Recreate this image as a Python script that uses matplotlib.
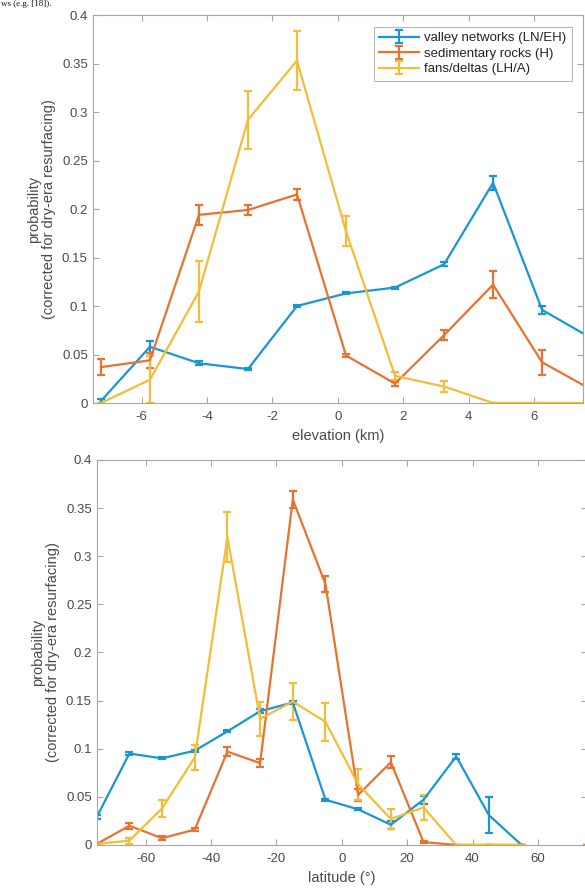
import numpy as np
import matplotlib
matplotlib.use('Agg')
import matplotlib.pyplot as plt

plt.rcParams['font.family'] = ['Liberation Sans', 'DejaVu Sans']
plt.rcParams['axes.unicode_minus'] = False

# elevation bins (km)
elev = [-7.25, -5.75, -4.25, -2.75, -1.25, 0.25, 1.75, 3.25, 4.75, 6.25, 7.75]
elev_valley = [0.002, 0.058, 0.041, 0.035, 0.100, 0.113, 0.119, 0.143, 0.227, 0.096, 0.067]
elev_valley_err = [0.002, 0.006, 0.002, 0.001, 0.001, 0.001, 0.001, 0.002, 0.007, 0.004, 0.003]
elev_sed = [0.037, 0.044, 0.194, 0.199, 0.215, 0.049, 0.020, 0.070, 0.122, 0.042, 0.014]
elev_sed_err = [0.0085, 0.008, 0.010, 0.005, 0.006, 0.002, 0.002, 0.005, 0.014, 0.013, 0.004]
elev_fans = [0.0, 0.024, 0.115, 0.292, 0.353, 0.177, 0.028, 0.017, 0.0, 0.0, 0.0]
elev_fans_err = [0.0, 0.024, 0.0315, 0.030, 0.030, 0.0155, 0.004, 0.006, 0.0, 0.0, 0.0]

# latitude bins (deg)
lat = [-75, -65, -55, -45, -35, -25, -15, -5, 5, 15, 25, 35, 45, 55, 65, 75]
nan = np.nan
lat_valley = [0.029, 0.095, 0.090, 0.098, 0.118, 0.139, 0.148, 0.047, 0.037, 0.021, 0.047, 0.092, 0.031, 0.0, nan, nan]
lat_valley_err = [0.002, 0.002, 0.001, 0.001, 0.001, 0.002, 0.002, 0.001, 0.001, 0.004, 0.004, 0.003, 0.0185, 0.0, nan, nan]
lat_sed = [0.001, 0.020, 0.007, 0.016, 0.097, 0.085, 0.359, 0.271, 0.052, 0.086, 0.003, 0.0, 0.0, 0.0, nan, 0.0]
lat_sed_err = [0.001, 0.003, 0.002, 0.002, 0.0045, 0.004, 0.009, 0.0085, 0.006, 0.006, 0.001, 0.0, 0.0, 0.0, nan, 0.0]
lat_fans = [0.001, 0.0045, 0.038, 0.091, 0.320, 0.131, 0.149, 0.128, 0.063, 0.027, 0.039, 0.0, 0.0, 0.0, nan, nan]
lat_fans_err = [0.001, 0.003, 0.0085, 0.013, 0.026, 0.018, 0.019, 0.020, 0.016, 0.010, 0.013, 0.0, 0.0, 0.0, nan, nan]

labels = ['valley networks (LN/EH)', 'sedimentary rocks (H)', 'fans/deltas (LH/A)']
colors = ['#1a96d4', '#e8722f', '#f2bd3a']
axis_gray = '#a6a6a6'
text_gray = '#4a4a4a'

fig = plt.figure(figsize=(5.85, 8.93), dpi=100)
ax1 = fig.add_axes([0.1585, 0.5487, 0.838, 0.4345])
ax2 = fig.add_axes([0.1653, 0.0538, 0.838, 0.4311])


def draw(ax, x, series, errs):
    for y, e, c, lab in zip(series, errs, colors, labels):
        ax.errorbar(x, y, yerr=e, color=c, lw=1.6, elinewidth=1.6,
                    capsize=3, capthick=1.6, label=lab)
    for s in ax.spines.values():
        s.set_color(axis_gray)
        s.set_linewidth(0.8)
    ax.tick_params(direction='in', top=True, right=True, color=axis_gray,
                   labelcolor=text_gray, labelsize=9.5, length=4, width=0.8)
    ax.tick_params(axis='x', pad=6)
    ax.set_ylim(0, 0.4)
    ax.set_yticks(np.arange(0, 0.401, 0.05))
    ax.set_yticklabels(['0', '0.05', '0.1', '0.15', '0.2', '0.25', '0.3', '0.35', '0.4'])
    ax.set_ylabel('probability\n(corrected for dry-era resurfacing)', color=text_gray,
                  fontsize=10.5, linespacing=1.1)


draw(ax1, elev, [elev_valley, elev_sed, elev_fans],
     [elev_valley_err, elev_sed_err, elev_fans_err])
ax1.set_xlim(-7.5, 7.5)
ax1.set_xticks([-6, -4, -2, 0, 2, 4, 6])
ax1.set_xlabel('elevation (km)', color=text_gray, fontsize=10.5, labelpad=4)
leg = ax1.legend(loc='upper right', bbox_to_anchor=(0.985, 0.98), fontsize=9.5,
                 frameon=True, fancybox=False, handlelength=3.0, borderpad=0.4,
                 labelspacing=0.25, handletextpad=0.4, borderaxespad=0.3)
leg.get_frame().set_edgecolor(axis_gray)
leg.get_frame().set_linewidth(0.8)
for t in leg.get_texts():
    t.set_color('#222222')

draw(ax2, lat, [lat_valley, lat_sed, lat_fans],
     [lat_valley_err, lat_sed_err, lat_fans_err])
ax2.set_xlim(-75, 75)
ax2.set_xticks([-60, -40, -20, 0, 20, 40, 60])
ax2.set_xlabel('latitude (°)', color=text_gray, fontsize=10.5, labelpad=4)

# line of the surrounding document text above the chart
fig.text(0.002, 0.9995, 'ws (e.g. [18]).', family=['Liberation Serif', 'DejaVu Serif'],
         fontsize=6.5, color='#111111', va='top', ha='left')

fig.savefig('out.png', dpi=100)
